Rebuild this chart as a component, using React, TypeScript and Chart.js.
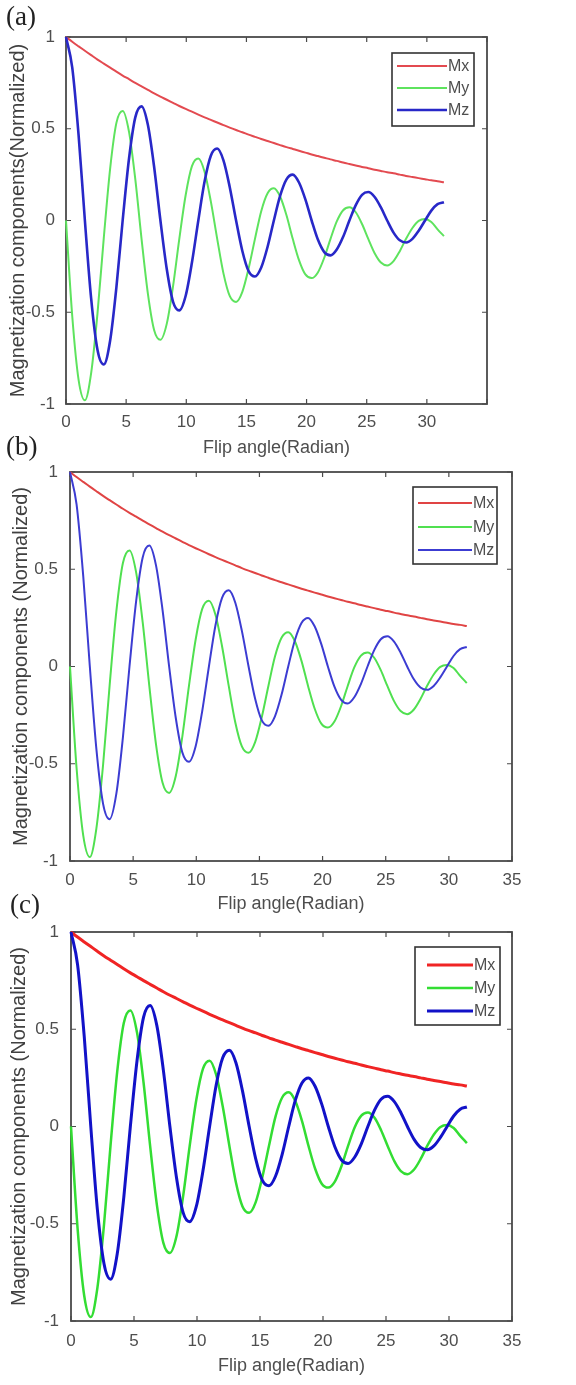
import React, { useEffect, useRef } from 'react';
import { Chart, registerables } from 'chart.js';

Chart.register(...registerables);

// ---- data (flip angle in radians) ----
const angle = [
  0, 0.52, 1.05, 1.57, 2.09, 2.62, 3.14, 3.67, 4.19, 4.71,
  5.24, 5.76, 6.28, 6.81, 7.33, 7.85, 8.38, 8.9, 9.42, 9.95,
  10.47, 11.0, 11.52, 12.04, 12.57, 13.09, 13.61, 14.14, 14.66, 15.18,
  15.71, 16.23, 16.76, 17.28, 17.8, 18.33, 18.85, 19.37, 19.9, 20.42,
  20.94, 21.47, 21.99, 22.51, 23.04, 23.56, 24.09, 24.61, 25.13, 25.66,
  26.18, 26.7, 27.23, 27.75, 28.27, 28.8, 29.32, 29.85, 30.37, 30.89,
  31.42,
];

const mx = [
  1.0, 0.974, 0.949, 0.925, 0.901, 0.877, 0.855, 0.833, 0.811, 0.79,
  0.77, 0.75, 0.731, 0.712, 0.693, 0.675, 0.658, 0.641, 0.624, 0.608,
  0.593, 0.577, 0.562, 0.548, 0.534, 0.52, 0.506, 0.493, 0.481, 0.468,
  0.456, 0.444, 0.433, 0.422, 0.411, 0.4, 0.39, 0.38, 0.37, 0.36,
  0.351, 0.342, 0.333, 0.325, 0.316, 0.308, 0.3, 0.292, 0.285, 0.277,
  0.27, 0.263, 0.257, 0.25, 0.243, 0.237, 0.231, 0.225, 0.219, 0.214,
  0.208,
];

const my = [
  0, -0.522, -0.87, -0.98, -0.832, -0.505, -0.096, 0.283, 0.532, 0.597,
  0.483, 0.225, -0.1, -0.4, -0.598, -0.65, -0.562, -0.358, -0.1, 0.139,
  0.296, 0.338, 0.266, 0.104, -0.1, -0.288, -0.411, -0.444, -0.389, -0.262,
  -0.1, 0.051, 0.149, 0.176, 0.131, 0.029, -0.1, -0.216, -0.294, -0.314,
  -0.283, -0.203, -0.1, -0.005, 0.056, 0.072, 0.045, -0.019, -0.1, -0.178,
  -0.229, -0.245, -0.221, -0.167, -0.1, -0.041, -0.002, 0.008, -0.008, -0.048,
  -0.085,
];

const mz = [
  1.0, 0.833, 0.463, 0.0, -0.425, -0.706, -0.785, -0.654, -0.364, 0.0,
  0.338, 0.562, 0.622, 0.52, 0.29, 0.0, -0.266, -0.443, -0.49, -0.41,
  -0.229, 0.0, 0.212, 0.353, 0.392, 0.328, 0.183, 0.0, -0.166, -0.276,
  -0.305, -0.256, -0.143, 0.0, 0.134, 0.224, 0.25, 0.207, 0.115, 0.0,
  -0.104, -0.172, -0.19, -0.158, -0.089, 0.0, 0.084, 0.14, 0.155, 0.128,
  0.071, 0.0, -0.066, -0.108, -0.12, -0.1, -0.056, 0.0, 0.054, 0.089,
  0.1,
];

const seriesNames = ['Mx', 'My', 'Mz'];
const xTicks = [0, 5, 10, 15, 20, 25, 30, 35];
const yTicks = [-1, -0.5, 0, 0.5, 1];
const xTitle = 'Flip angle(Radian)';
const yTitles = [
  'Magnetization components(Normalized)',
  'Magnetization components (Normalized)',
  'Magnetization components (Normalized)',
];
const panelLabels = ['(a)', '(b)', '(c)'];

// ---- styles / layout per panel ----
type Panel = {
  top: number; height: number;
  padTop: number; padRight: number;
  yAxisW: number; xAxisH: number;
  xTickPad: number; yTickPad: number;
  xTitlePad: number; yTitlePad: number;
  hideLastX: boolean;
  colors: string[]; widths: number[];
  legend: { right: number; top: number; w: number; h: number; rows: number[]; l0: number; l1: number };
  label: { left: number; top: number };
};

const panels: Panel[] = [
  {
    top: 0, height: 470, padTop: 37, padRight: 89, yAxisW: 66, xAxisH: 66,
    xTickPad: 8, yTickPad: 11, xTitlePad: 11, yTitlePad: 6, hideLastX: true,
    colors: ['#e34a50', '#5ee35e', '#2828c8'], widths: [2, 2, 2.6],
    legend: { right: 13, top: 16, w: 82, h: 73, rows: [13, 35, 57], l0: 5, l1: 55 },
    label: { left: 6, top: 3 },
  },
  {
    top: 440, height: 480, padTop: 32, padRight: 64, yAxisW: 70, xAxisH: 59,
    xTickPad: 9, yTickPad: 12, xTitlePad: 5, yTitlePad: 9, hideLastX: false,
    colors: ['#e04444', '#50e050', '#3c3cd2'], widths: [2, 2, 2],
    legend: { right: 15, top: 15, w: 84, h: 77, rows: [16, 40, 63], l0: 5, l1: 59 },
    label: { left: 6, top: 433 },
  },
  {
    top: 895, height: 490, padTop: 37, padRight: 64, yAxisW: 71, xAxisH: 64,
    xTickPad: 10, yTickPad: 12, xTitlePad: 8, yTitlePad: 7, hideLastX: false,
    colors: ['#f02424', '#33dd33', '#1212c8'], widths: [3, 2.5, 3],
    legend: { right: 12, top: 15, w: 85, h: 78, rows: [18, 41, 64], l0: 12, l1: 58 },
    label: { left: 10, top: 891 },
  },
];

const FONT = "'Liberation Sans', Arial, sans-serif";
const TEXT = '#4e4e4e';
const FRAME = '#4a4a4a';

const framePlugin = {
  id: 'matFrame',
  beforeDatasetsDraw(chart: any, _args: any, opts: any) {
    const { ctx, chartArea } = chart;
    const { left, top, right, bottom } = chartArea;
    ctx.save();
    ctx.strokeStyle = FRAME;
    ctx.lineWidth = 1.8;
    ctx.strokeRect(left, top, right - left, bottom - top);
    const tl = 5;
    ctx.lineWidth = 1.2;
    ctx.beginPath();
    const xs = chart.scales.x;
    const ys = chart.scales.y;
    xs.ticks.forEach((t: any) => {
      const px = xs.getPixelForValue(t.value);
      ctx.moveTo(px, bottom); ctx.lineTo(px, bottom - tl);
      ctx.moveTo(px, top); ctx.lineTo(px, top + tl);
    });
    ys.ticks.forEach((t: any) => {
      const py = ys.getPixelForValue(t.value);
      ctx.moveTo(left, py); ctx.lineTo(left + tl, py);
      ctx.moveTo(right, py); ctx.lineTo(right - tl, py);
    });
    ctx.stroke();
    ctx.restore();
  },
  afterDatasetsDraw(chart: any, _args: any, opts: any) {
    const L = opts.legend;
    if (!L) return;
    const { ctx, chartArea } = chart;
    const bx = chartArea.right - L.right - L.w;
    const by = chartArea.top + L.top;
    ctx.save();
    ctx.fillStyle = '#ffffff';
    ctx.fillRect(bx, by, L.w, L.h);
    ctx.strokeStyle = '#333333';
    ctx.lineWidth = 1.6;
    ctx.strokeRect(bx, by, L.w, L.h);
    chart.data.datasets.forEach((ds: any, i: number) => {
      const y = by + L.rows[i];
      ctx.strokeStyle = ds.borderColor;
      ctx.lineWidth = ds.borderWidth;
      ctx.beginPath();
      ctx.moveTo(bx + L.l0, y);
      ctx.lineTo(bx + L.l1, y);
      ctx.stroke();
      ctx.fillStyle = TEXT;
      ctx.font = `16px ${FONT}`;
      ctx.textAlign = 'left';
      ctx.textBaseline = 'middle';
      ctx.fillText(ds.label, bx + L.l1 + 1, y + 1);
    });
    ctx.restore();
  },
};

function PanelChart({ p, idx }: { p: Panel; idx: number }) {
  const ref = useRef<HTMLCanvasElement | null>(null);
  useEffect(() => {
    if (!ref.current) return;
    const series = [mx, my, mz];
    const chart = new Chart(ref.current, {
      type: 'line',
      data: {
        datasets: series.map((s, i) => ({
          label: seriesNames[i],
          data: angle.map((a, j) => ({ x: a, y: s[j] })),
          borderColor: p.colors[i],
          borderWidth: p.widths[i],
          pointRadius: 0,
          fill: false,
          cubicInterpolationMode: 'monotone' as const,
          clip: 6,
          order: 2 - i,
        })),
      },
      options: {
        responsive: false,
        animation: false,
        devicePixelRatio: 1,
        layout: { padding: { top: p.padTop, right: p.padRight, left: 0, bottom: 0 } },
        plugins: {
          legend: { display: false },
          tooltip: { enabled: false },
          matFrame: { legend: p.legend },
        } as any,
        scales: {
          x: {
            type: 'linear',
            min: 0,
            max: 35,
            afterBuildTicks: (s: any) => { s.ticks = xTicks.map((v) => ({ value: v })); },
            afterFit: (s: any) => { s.height = p.xAxisH; },
            grid: { display: false, drawTicks: false },
            border: { display: false },
            ticks: {
              autoSkip: false, maxRotation: 0, padding: p.xTickPad, color: TEXT,
              font: { family: FONT, size: 17 },
              callback: (v: any) => (p.hideLastX && v === 35 ? '' : String(v)),
            },
            title: {
              display: true, text: xTitle, color: TEXT,
              font: { family: FONT, size: 18 },
              padding: { top: 0, bottom: p.xTitlePad },
            },
          },
          y: {
            type: 'linear',
            min: -1,
            max: 1,
            afterBuildTicks: (s: any) => { s.ticks = yTicks.map((v) => ({ value: v })); },
            afterFit: (s: any) => { s.width = p.yAxisW; },
            grid: { display: false, drawTicks: false },
            border: { display: false },
            ticks: {
              padding: p.yTickPad, color: TEXT,
              font: { family: FONT, size: 17 },
              callback: (v: any) => String(v),
            },
            title: {
              display: true, text: yTitles[idx], color: '#404040',
              font: { family: FONT, size: 20 },
              padding: { top: p.yTitlePad, bottom: 0 },
            },
          },
        },
      } as any,
      plugins: [framePlugin as any],
    });
    return () => chart.destroy();
  }, [p, idx]);

  return (
    <canvas
      ref={ref}
      width={576}
      height={p.height}
      style={{ position: 'absolute', left: 0, top: p.top, width: 576, height: p.height, display: 'block' }}
    />
  );
}

export default function App() {
  return (
    <div style={{ position: 'absolute', left: 0, top: 0, width: 576, height: 1385, background: '#ffffff', overflow: 'hidden' }}>
      {panels.map((p, i) => (
        <PanelChart key={i} p={p} idx={i} />
      ))}
      {panels.map((p, i) => (
        <div
          key={'l' + i}
          style={{
            position: 'absolute', left: p.label.left, top: p.label.top,
            fontFamily: "'Liberation Serif', 'Times New Roman', serif", fontSize: 27,
            lineHeight: '27px', color: '#222222',
          }}
        >
          {panelLabels[i]}
        </div>
      ))}
    </div>
  );
}
